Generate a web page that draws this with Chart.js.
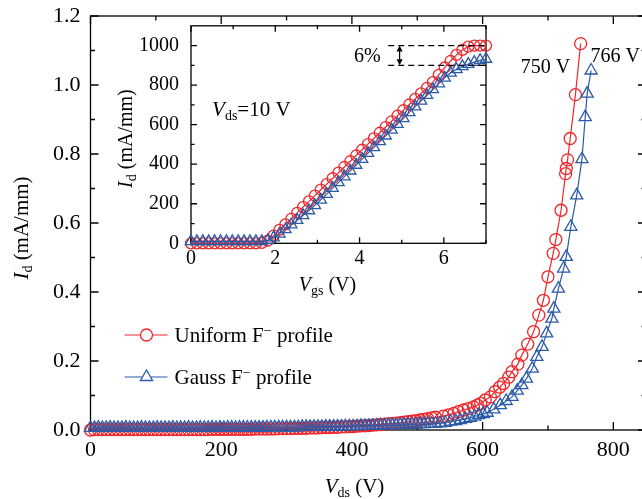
<!DOCTYPE html>
<html>
<head>
<meta charset="utf-8">
<script src="https://cdn.jsdelivr.net/npm/chart.js@4.4.1/dist/chart.umd.min.js"></script>
<style>
  html, body { margin: 0; padding: 0; background: #fff; overflow: hidden; }
  #wrap { position: relative; width: 642px; height: 499px; overflow: hidden; }
  #main { position: absolute; left: 0; top: 0; }
  #inset { position: absolute; left: 100px; top: 18px; }
</style>
</head>
<body>
<div id="wrap">
  <canvas id="main" width="700" height="499"></canvas>
  <canvas id="inset" width="400" height="290"></canvas>
</div>
<script>
'use strict';

var SERIF = '"Liberation Serif", "Times New Roman", serif';
var RED = '#ef262b';
var BLUE = '#2b5aa8';

// ---- main plot: off-state Id vs Vds ----
var vdsLow = [0, 6, 12, 18, 24, 30, 36, 42, 48, 54,
              60, 66, 72, 78, 84, 90, 96, 102, 108, 114,
              120, 126, 132, 138, 144, 150, 156, 162, 168, 174,
              180, 186, 192, 198, 204, 210, 216, 222, 228, 234,
              240, 246, 252, 258, 264, 270, 276, 282, 288, 294,
              300, 306, 312, 318, 324, 330, 336, 342, 348, 354,
              360, 366, 372, 378, 384, 390, 396, 402, 408, 414,
              420, 426, 432, 438, 444, 450, 456, 462, 468, 474,
              480, 486, 492, 498, 504, 510, 516, 522, 528];
var uniformLow = [0, 0.001, 0.001, 0.001, 0.001, 0.001, 0.001, 0.001, 0.001, 0.001,
                  0.001, 0.001, 0.001, 0.001, 0.001, 0.001, 0.001, 0.001, 0.001, 0.001,
                  0.001, 0.001, 0.001, 0.001, 0.001, 0.001, 0.001, 0.001, 0.001, 0.001,
                  0.001, 0.002, 0.002, 0.002, 0.002, 0.002, 0.002, 0.002, 0.002, 0.002,
                  0.002, 0.002, 0.003, 0.003, 0.003, 0.003, 0.003, 0.003, 0.004, 0.004,
                  0.004, 0.004, 0.005, 0.005, 0.005, 0.005, 0.006, 0.006, 0.006, 0.007,
                  0.007, 0.007, 0.008, 0.008, 0.009, 0.009, 0.010, 0.010, 0.011, 0.012,
                  0.012, 0.013, 0.014, 0.015, 0.016, 0.017, 0.018, 0.019, 0.020, 0.021,
                  0.023, 0.024, 0.026, 0.027, 0.029, 0.031, 0.033, 0.035, 0.037];
var gaussLow = [0.006, 0.006, 0.007, 0.006, 0.006, 0.007, 0.006, 0.006, 0.006, 0.007,
                0.006, 0.006, 0.006, 0.007, 0.006, 0.006, 0.006, 0.007, 0.006, 0.006,
                0.006, 0.007, 0.006, 0.006, 0.006, 0.007, 0.006, 0.006, 0.007, 0.006,
                0.006, 0.007, 0.006, 0.007, 0.006, 0.007, 0.007, 0.006, 0.007, 0.007,
                0.007, 0.007, 0.007, 0.007, 0.007, 0.008, 0.008, 0.008, 0.008, 0.008,
                0.008, 0.008, 0.008, 0.008, 0.009, 0.009, 0.009, 0.009, 0.009, 0.009,
                0.010, 0.010, 0.010, 0.010, 0.010, 0.011, 0.011, 0.011, 0.011, 0.012,
                0.012, 0.012, 0.012, 0.013, 0.013, 0.013, 0.014, 0.014, 0.014, 0.015,
                0.015, 0.015, 0.016, 0.016, 0.017, 0.017, 0.018, 0.018, 0.018];
var uniformHighVds = [540, 548, 556, 563, 571, 578, 586, 592, 597, 604,
                      612, 619, 626, 632, 640, 645, 654, 660, 669, 678,
                      686, 693, 700, 708, 712, 720, 727, 728, 730, 734,
                      742, 750];
var uniformHigh = [0.040, 0.044, 0.048, 0.053, 0.058, 0.062, 0.067, 0.072, 0.077, 0.087,
                   0.096, 0.111, 0.124, 0.135, 0.153, 0.169, 0.191, 0.217, 0.249, 0.285,
                   0.333, 0.376, 0.444, 0.512, 0.552, 0.637, 0.743, 0.758, 0.783, 0.845,
                   0.972, 1.120];
var gaussHighVds = [535, 543, 551, 559, 566, 574, 581, 588, 594, 601,
                    607, 617, 627, 636, 645, 653, 660, 667, 676, 683,
                    691, 698, 706, 709, 716, 724, 728, 735, 744, 752,
                    757, 760, 766];
var gaussHigh = [0.019, 0.021, 0.024, 0.026, 0.029, 0.032, 0.035, 0.039, 0.043, 0.046,
                 0.050, 0.060, 0.072, 0.084, 0.096, 0.114, 0.130, 0.149, 0.178, 0.212,
                 0.241, 0.280, 0.323, 0.352, 0.410, 0.468, 0.502, 0.589, 0.680, 0.785,
                 0.907, 0.975, 1.042];

var vdsTicks = [0, 200, 400, 600, 800];
var vdsMinor = [100, 300, 500, 700];
var idTicks = [0, 0.2, 0.4, 0.6, 0.8, 1.0, 1.2];
var idMinor = [0.1, 0.3, 0.5, 0.7, 0.9, 1.1];

// breakdown voltage labels (value coords)
var bvLabels = [
    { text: '750 V', x: 696, y: 1.054 },
    { text: '766 V', x: 803, y: 1.086 }
];

// ---- inset: transfer curves, Vds = 10 V ----
var vgs = [0, 0.14, 0.28, 0.42, 0.56, 0.70, 0.84, 0.98, 1.12, 1.26,
           1.40, 1.54, 1.68, 1.82, 1.96, 2.10, 2.24, 2.38, 2.52, 2.66,
           2.80, 2.94, 3.08, 3.22, 3.36, 3.50, 3.64, 3.78, 3.92, 4.06,
           4.20, 4.34, 4.48, 4.62, 4.76, 4.90, 5.04, 5.18, 5.32, 5.46,
           5.60, 5.74, 5.88, 6.02, 6.16, 6.30, 6.44, 6.58, 6.72, 6.86, 7.00];
var uniformTransfer = [0, 0, 0, 0, 0, 0, 0, 0, 0, 0,
                       0, 0, 2, 13, 39, 68, 96, 124, 154, 183,
                       212, 241, 271, 299, 329, 357, 386, 415, 444, 473,
                       502, 531, 559, 588, 617, 645, 673, 702, 730, 758,
                       786, 815, 852, 889, 922, 953, 978, 995, 1000, 1000, 1000];
var gaussTransfer = [10, 10, 10, 10, 10, 10, 10, 10, 10, 10,
                     10, 10, 10, 15, 29, 48, 70, 94, 117, 141,
                     166, 192, 220, 249, 279, 308, 337, 367, 396, 426,
                     456, 485, 515, 544, 574, 603, 632, 662, 691, 720,
                     749, 778, 808, 837, 862, 880, 895, 906, 916, 925, 932];

var vgsTicks = [0, 2, 4, 6];
var vgsMinor = [1, 3, 5, 7];
var insetIdTicks = [0, 200, 400, 600, 800, 1000];
var insetIdMinor = [100, 300, 500, 700, 900];

// 6% saturation-current gap marker
var gapTop = 1000, gapBottom = 900, gapFrom = 4.68, gapArrowAt = 4.95;
var gapText = '6%';

function font(size, italic) {
    return (italic ? 'italic ' : '') + size + 'px ' + SERIF;
}

function pts(xs, ys) {
    return xs.map(function(x, i) { return { x: x, y: ys[i] }; });
}

// draws a run of text pieces (for italic symbols and subscripts)
function richText(ctx, parts, x, y, align) {
    var w = 0;
    parts.forEach(function(p) { ctx.font = p.font; p.w = ctx.measureText(p.text).width; w += p.w; });
    var cx = align === 'center' ? x - w / 2 : (align === 'right' ? x - w : x);
    ctx.textAlign = 'left';
    ctx.textBaseline = 'alphabetic';
    parts.forEach(function(p) {
        ctx.font = p.font;
        ctx.fillText(p.text, cx, y + (p.dy || 0));
        cx += p.w;
    });
}

function drawFrame(chart, spec) {
    var ctx = chart.ctx, a = chart.chartArea;
    var xs = chart.scales.x, ys = chart.scales.y;
    ctx.save();
    ctx.strokeStyle = '#000';
    ctx.lineWidth = spec.lw;
    ctx.strokeRect(a.left, a.top, a.right - a.left, a.bottom - a.top);
    ctx.beginPath();
    function tickX(vals, len) {
        vals.forEach(function(v) {
            var p = xs.getPixelForValue(v);
            ctx.moveTo(p, a.bottom); ctx.lineTo(p, a.bottom - len);
            ctx.moveTo(p, a.top); ctx.lineTo(p, a.top + len);
        });
    }
    function tickY(vals, len) {
        vals.forEach(function(v) {
            var p = ys.getPixelForValue(v);
            ctx.moveTo(a.left, p); ctx.lineTo(a.left + len, p);
            ctx.moveTo(a.right, p); ctx.lineTo(a.right - len, p);
        });
    }
    tickX(spec.xMajor, spec.major); tickX(spec.xMinor, spec.minor);
    tickY(spec.yMajor, spec.major); tickY(spec.yMinor, spec.minor);
    ctx.stroke();
    ctx.restore();
}

function series(label, data, color, style, r, order) {
    return {
        label: label, data: data, showLine: true,
        borderColor: color, borderWidth: 1.2,
        pointStyle: style, pointRadius: r, pointBorderWidth: 1.3,
        pointBorderColor: color, pointBackgroundColor: 'rgba(0,0,0,0)',
        clip: false, order: order
    };
}

// fixed axis box sizes; drop the label overhang padding chart.js adds
function fixY(width) {
    return function(s) { s.width = width; s.paddingTop = 0; s.paddingBottom = 0; };
}
function fixX(height) {
    return function(s) { s.height = height; s.paddingLeft = 0; s.paddingRight = 0; };
}

function axisOpts(min, max, ticks, size, pad, fmt, fit) {
    return {
        type: 'linear', min: min, max: max,
        afterBuildTicks: function(s) { s.ticks = ticks.map(function(v) { return { value: v }; }); },
        afterFit: fit,
        grid: { display: false, drawTicks: false },
        border: { display: false },
        ticks: { color: '#000', font: { family: SERIF, size: size }, padding: pad,
                 maxRotation: 0, autoSkip: false, callback: fmt }
    };
}

// ---------- main chart ----------
var mainDecor = {
    id: 'mainDecor',
    beforeDatasetsDraw: function(chart) {
        drawFrame(chart, { lw: 1.3, major: 8, minor: 4.5,
            xMajor: vdsTicks, xMinor: vdsMinor, yMajor: idTicks, yMinor: idMinor });
    },
    afterDraw: function(chart) {
        var ctx = chart.ctx, a = chart.chartArea;
        var xs = chart.scales.x, ys = chart.scales.y;
        ctx.save();
        ctx.fillStyle = '#000';

        // axis titles
        richText(ctx, [
            { text: 'V', font: font(21, true) },
            { text: 'ds', font: font(14), dy: 4 },
            { text: ' (V)', font: font(21) }
        ], a.left + 264, 493, 'center');

        ctx.save();
        ctx.translate(28, (a.top + a.bottom) / 2 + 5);
        ctx.rotate(-Math.PI / 2);
        richText(ctx, [
            { text: 'I', font: font(21, true) },
            { text: 'd', font: font(14), dy: 4 },
            { text: ' (mA/mm)', font: font(21) }
        ], 0, 0, 'center');
        ctx.restore();

        // breakdown labels
        bvLabels.forEach(function(l) {
            richText(ctx, [{ text: l.text, font: font(20) }],
                xs.getPixelForValue(l.x), ys.getPixelForValue(l.y) + 7, 'center');
        });

        // legend
        var rows = [
            { name: 'Uniform F', color: RED, style: 'circle', r: 6, y: a.bottom - 95 },
            { name: 'Gauss F', color: BLUE, style: 'triangle', r: 7, y: a.bottom - 53 }
        ];
        rows.forEach(function(row) {
            ctx.strokeStyle = row.color;
            ctx.lineWidth = 1.2;
            ctx.beginPath();
            ctx.moveTo(a.left + 34, row.y); ctx.lineTo(a.left + 77, row.y);
            ctx.stroke();
            ctx.fillStyle = '#fff';
            ctx.lineWidth = 1.3;
            Chart.helpers.drawPoint(ctx, { pointStyle: row.style, radius: row.r, borderWidth: 1.3, rotation: 0 },
                a.left + 56, row.y);
            ctx.fillStyle = '#000';
            richText(ctx, [
                { text: row.name, font: font(21) },
                { text: '\u2212', font: font(14), dy: -7 },
                { text: ' profile', font: font(21) }
            ], a.left + 84, row.y + 7, 'left');
        });
        ctx.restore();
    }
};

new Chart(document.getElementById('main'), {
    type: 'scatter',
    data: {
        datasets: [
            series('Uniform F\u207B profile', pts(vdsLow, uniformLow).concat(pts(uniformHighVds, uniformHigh)), RED, 'circle', 6, 1),
            series('Gauss F\u207B profile', pts(vdsLow, gaussLow).concat(pts(gaussHighVds, gaussHigh)), BLUE, 'triangle', 7, 0)
        ]
    },
    options: {
        responsive: false, animation: false, events: [],
        layout: { padding: { top: 16, right: 54, left: 0, bottom: 0 } },
        plugins: { legend: { display: false }, tooltip: { enabled: false } },
        scales: {
            x: axisOpts(0, 850, vdsTicks, 22, 7, function(v) { return v; }, fixX(69)),
            y: axisOpts(0, 1.2, idTicks, 22, 10, function(v) { return v.toFixed(1); }, fixY(90.5))
        }
    },
    plugins: [mainDecor]
});

// ---------- inset ----------
var insetDecor = {
    id: 'insetDecor',
    beforeDraw: function(chart) {
        var ctx = chart.ctx, a = chart.chartArea;
        ctx.save();
        ctx.fillStyle = '#fff';
        ctx.fillRect(a.left, a.top, a.right - a.left, a.bottom - a.top);
        ctx.restore();
    },
    beforeDatasetsDraw: function(chart) {
        drawFrame(chart, { lw: 1.3, major: 6, minor: 3.5,
            xMajor: vgsTicks, xMinor: vgsMinor, yMajor: insetIdTicks, yMinor: insetIdMinor });
    },
    afterDraw: function(chart) {
        var ctx = chart.ctx, a = chart.chartArea;
        var xs = chart.scales.x, ys = chart.scales.y;
        ctx.save();
        ctx.fillStyle = '#000';

        richText(ctx, [
            { text: 'V', font: font(20, true) },
            { text: 'gs', font: font(14), dy: 4 },
            { text: ' (V)', font: font(20) }
        ], (a.left + a.right) / 2 - 11, 273, 'center');

        ctx.save();
        ctx.translate(32, (a.top + a.bottom) / 2 + 4);
        ctx.rotate(-Math.PI / 2);
        richText(ctx, [
            { text: 'I', font: font(20, true) },
            { text: 'd', font: font(14), dy: 4 },
            { text: ' (mA/mm)', font: font(20) }
        ], 0, 0, 'center');
        ctx.restore();

        richText(ctx, [
            { text: 'V', font: font(21, true) },
            { text: 'ds', font: font(14), dy: 4 },
            { text: '=10 V', font: font(21) }
        ], xs.getPixelForValue(0.5), ys.getPixelForValue(680) + 7, 'left');

        // 6% gap: dashed levels and double arrow
        var yT = ys.getPixelForValue(gapTop), yB = ys.getPixelForValue(gapBottom);
        var xa = xs.getPixelForValue(gapArrowAt);
        ctx.strokeStyle = '#000';
        ctx.lineWidth = 1.2;
        ctx.setLineDash([6, 4]);
        ctx.beginPath();
        ctx.moveTo(xs.getPixelForValue(gapFrom), yT); ctx.lineTo(a.right, yT);
        ctx.moveTo(xs.getPixelForValue(gapFrom), yB); ctx.lineTo(a.right, yB);
        ctx.stroke();
        ctx.setLineDash([]);
        ctx.beginPath();
        ctx.moveTo(xa, yT + 4); ctx.lineTo(xa, yB - 4);
        ctx.stroke();
        ctx.beginPath();
        ctx.moveTo(xa, yT); ctx.lineTo(xa - 3, yT + 6); ctx.lineTo(xa + 3, yT + 6); ctx.closePath();
        ctx.moveTo(xa, yB); ctx.lineTo(xa - 3, yB - 6); ctx.lineTo(xa + 3, yB - 6); ctx.closePath();
        ctx.fill();
        richText(ctx, [{ text: gapText, font: font(20) }],
            xs.getPixelForValue(4.5), (yT + yB) / 2 + 7, 'right');
        ctx.restore();
    }
};

new Chart(document.getElementById('inset'), {
    type: 'scatter',
    data: {
        datasets: [
            series('Uniform', pts(vgs, uniformTransfer), RED, 'circle', 5.5, 1),
            series('Gauss', pts(vgs, gaussTransfer), BLUE, 'triangle', 6.5, 0)
        ]
    },
    options: {
        responsive: false, animation: false, events: [],
        layout: { padding: { top: 6.4, right: 14, left: 0, bottom: 0 } },
        plugins: { legend: { display: false }, tooltip: { enabled: false } },
        scales: {
            x: axisOpts(0, 7, vgsTicks, 20, 3, function(v) { return v; }, fixX(64.7)),
            y: axisOpts(0, 1100, insetIdTicks, 20, 12, function(v) { return v; }, fixY(91))
        }
    },
    plugins: [insetDecor]
});
</script>
</body>
</html>
